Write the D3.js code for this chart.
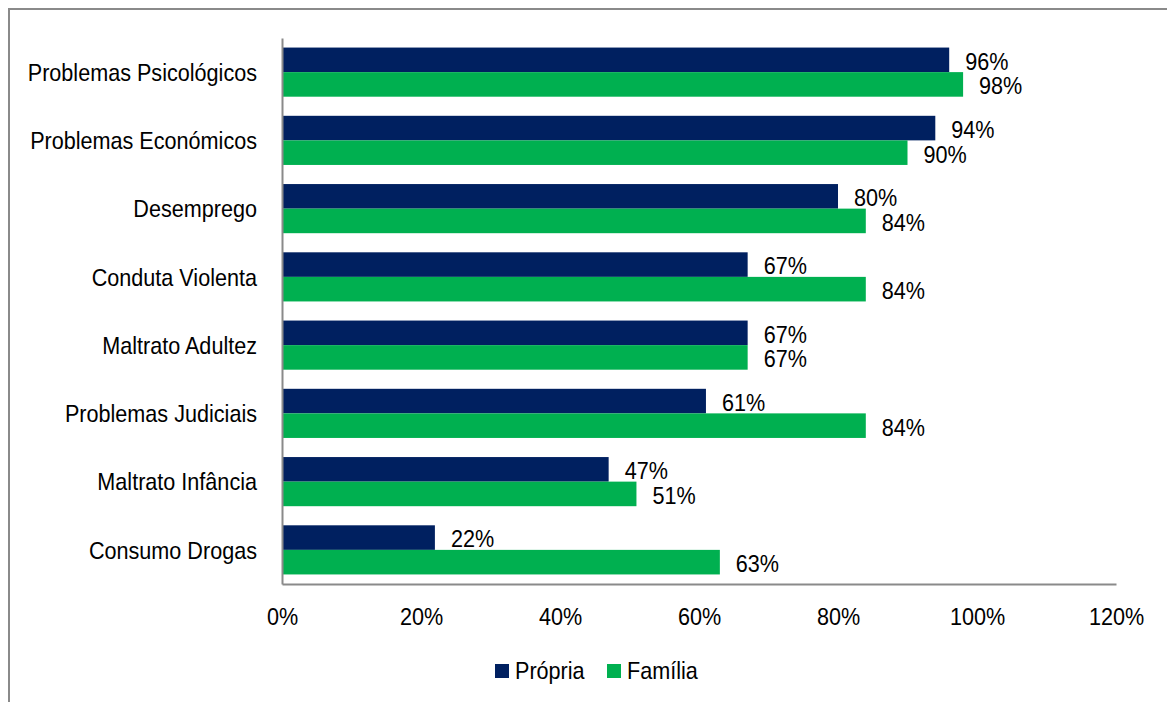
<!DOCTYPE html>
<html>
<head>
<meta charset="utf-8">
<script src="https://cdn.jsdelivr.net/npm/d3@7"></script>
<style>
  html, body { margin: 0; padding: 0; background: #fff; }
  svg { display: block; }
  text { font-family: "Liberation Sans", Arial, sans-serif; fill: #000; }
</style>
</head>
<body>
<svg id="chart" width="1167" height="702"></svg>
<script>
const categories = ["Problemas Psicológicos","Problemas Económicos","Desemprego","Conduta Violenta","Maltrato Adultez","Problemas Judiciais","Maltrato Infância","Consumo Drogas"];
const seriesNames = ["Própria","Família"];
const propria = [96, 94, 80, 67, 67, 61, 47, 22];
const familia = [98, 90, 84, 84, 67, 84, 51, 63];
const xTicks = [0, 20, 40, 60, 80, 100, 120];
const colors = ["#002060", "#00B050"];

(function () {
const svg = d3.select("#chart");
const FS = 24, SX = 0.9;
const mLeft = 282, mRight = 1116, mTop = 38, mBottom = 584;

// outer frame
svg.append("rect").attr("x", 9).attr("y", 9).attr("width", 1300).attr("height", 900)
  .attr("fill", "none").attr("stroke", "#8a8a8a").attr("stroke-width", 2);

const x = d3.scaleLinear().domain([0, 120]).range([mLeft, mRight]);
const y = d3.scaleBand().domain(categories).range([mTop, mBottom]).paddingInner(0.28).paddingOuter(0.14);
const ySub = d3.scaleBand().domain(seriesNames).range([0, y.bandwidth()]);

const data = categories.map((c, i) => ({cat: c, values: [propria[i], familia[i]]}));

const groups = svg.append("g").selectAll("g").data(data).join("g")
  .attr("transform", d => `translate(0,${y(d.cat)})`);

groups.selectAll("rect").data(d => d.values.map((v, j) => ({v, s: seriesNames[j], j}))).join("rect")
  .attr("x", x(0)).attr("y", d => ySub(d.s))
  .attr("width", d => x(d.v) - x(0)).attr("height", ySub.bandwidth())
  .attr("fill", d => colors[d.j]);

groups.selectAll("text.val").data(d => d.values.map((v, j) => ({v, s: seriesNames[j], j}))).join("text")
  .attr("class", "val")
  .attr("transform", d => `translate(${x(d.v) + 16},${ySub(d.s) + ySub.bandwidth() / 2 + 1.5}) scale(${SX},1)`)
  .attr("dy", "0.35em")
  .style("font-size", FS + "px")
  .text(d => d.v + "%");

// x axis
const xAxis = d3.axisBottom(x).tickValues(xTicks).tickSize(0).tickPadding(24).tickFormat(d => d + "%");
const gx = svg.append("g").attr("transform", `translate(0,${mBottom})`).call(xAxis);
gx.attr("font-family", null).attr("font-size", null);
gx.select(".domain").attr("stroke", "#8a8a8a").attr("stroke-width", 2);
gx.selectAll("text").style("font-size", FS + "px").attr("fill", "#000")
  .attr("transform", `scale(${SX},1)`);

// y axis
const yAxis = d3.axisLeft(y).tickSize(0).tickPadding(25);
const gy = svg.append("g").attr("transform", `translate(${mLeft},0)`).call(yAxis);
gy.attr("font-family", null).attr("font-size", null);
gy.select(".domain").attr("stroke", "#8a8a8a").attr("stroke-width", 2);
gy.selectAll("text").style("font-size", FS + "px").attr("fill", "#000")
  .each(function() {
    const t = d3.select(this);
    const xx = +t.attr("x");
    t.attr("x", 0).attr("transform", `translate(${xx},1) scale(${SX},1)`);
  });

// legend
const legendItems = [{name: seriesNames[0], x: 495}, {name: seriesNames[1], x: 607}];
const lg = svg.append("g");
legendItems.forEach((it, i) => {
  lg.append("rect").attr("x", it.x).attr("y", 664).attr("width", 14).attr("height", 14).attr("fill", colors[i]);
  lg.append("text").attr("transform", `translate(${it.x + 20},671) scale(${SX},1)`)
    .attr("dy", "0.35em").style("font-size", FS + "px").text(it.name);
});
})();
</script>
</body>
</html>
